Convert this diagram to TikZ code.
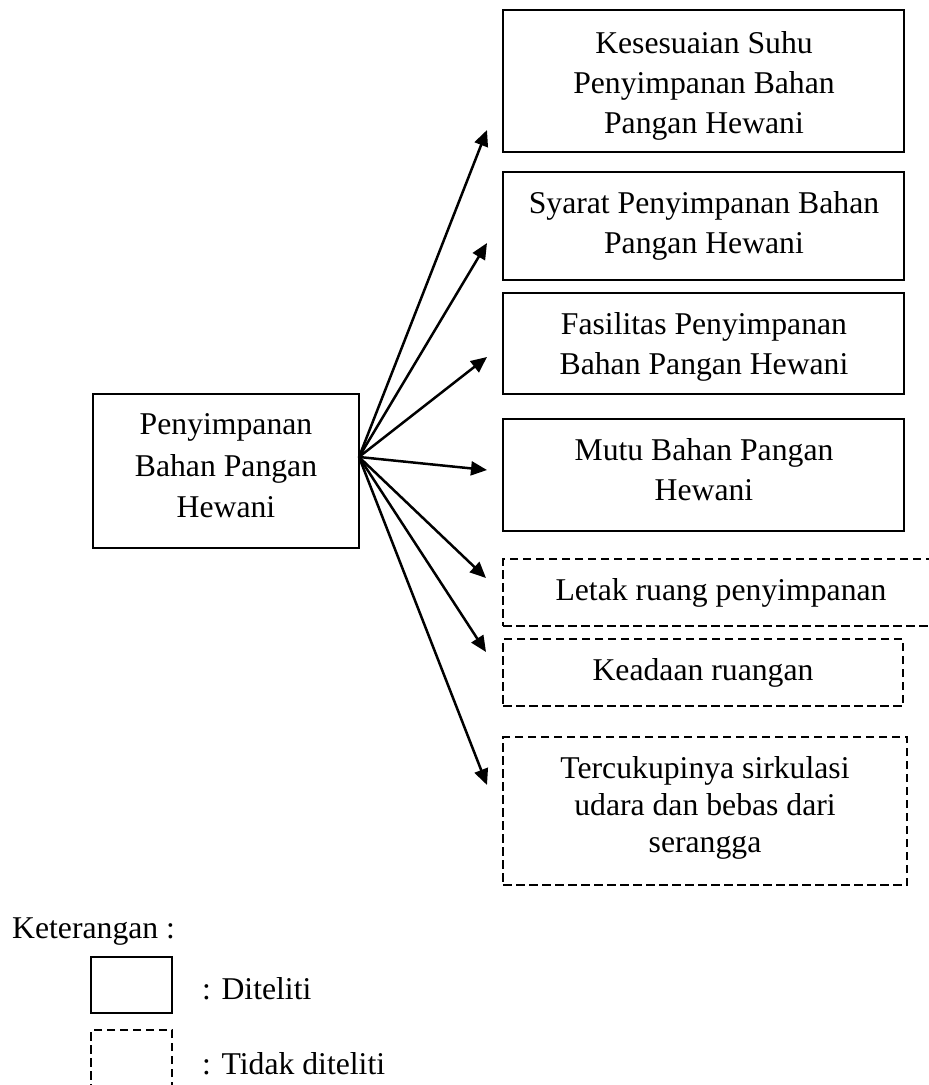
\documentclass[tikz,border=0pt]{standalone}
\usepackage{fontspec}
\setmainfont{Liberation Serif}
\usetikzlibrary{arrows.meta}
\begin{document}
\begin{tikzpicture}[x=1pt,y=-1pt,
  box/.style={draw, line width=2.2pt, rectangle, inner sep=0pt},
  dbox/.style={box, dash pattern=on 8.5pt off 4.5pt},
  lbl/.style={inner sep=0pt, align=center, font=\fontsize{31.7pt}{40pt}\selectfont},
  lbltight/.style={inner sep=0pt, align=center, font=\fontsize{31.7pt}{37pt}\selectfont},
  lblwide/.style={inner sep=0pt, align=center, font=\fontsize{31.7pt}{41.5pt}\selectfont},
  plain/.style={inner sep=0pt, font=\fontsize{31.7pt}{40pt}\selectfont},
  arr/.style={line width=2.5pt, -{Triangle[length=16pt,width=14pt]}}]
\useasboundingbox (0,0) rectangle (929,1085);

% boxes
\node[box, minimum width=266pt, minimum height=154pt] (c) at (226,471) {};
\node[box, minimum width=401pt, minimum height=142pt] (b1) at (703.5,81) {};
\node[box, minimum width=401pt, minimum height=108pt] (b2) at (703.5,226) {};
\node[box, minimum width=401pt, minimum height=101pt] (b3) at (703.5,343.5) {};
\node[box, minimum width=401pt, minimum height=112pt] (b4) at (703.5,475) {};
\node[dbox, minimum width=442pt, minimum height=67pt] (b5) at (724,592.5) {};
\node[dbox, minimum width=400pt, minimum height=67pt] (b6) at (703,672.5) {};
\node[dbox, minimum width=404pt, minimum height=148pt] (b7) at (705,811) {};

% texts
\node[lblwide] (tc) at (226,465.7) {Penyimpanan\\Bahan Pangan\\Hewani};
\node[lbl] (t1) at (704,86.1) {Kesesuaian Suhu\\Penyimpanan Bahan\\Pangan Hewani};
\node[lbl] (t2) at (704,225.6) {Syarat Penyimpanan Bahan\\Pangan Hewani};
\node[lbl] (t3) at (704,346.6) {Fasilitas Penyimpanan\\Bahan Pangan Hewani};
\node[lbl] (t4) at (704,469.2) {Mutu Bahan Pangan\\Hewani};
\node[lbl] (t5) at (721,592.6) {Letak ruang penyimpanan};
\node[lbl] (t6) at (703,672.6) {Keadaan ruangan};
\node[lbltight] (t7) at (705,807.6) {Tercukupinya sirkulasi\\udara dan bebas dari\\serangga};

% connectors
\coordinate (src) at (359,457);
\coordinate (e1) at (487,130);
\coordinate (e2) at (487,243);
\coordinate (e3) at (487,357);
\coordinate (e4) at (487,470);
\coordinate (e5) at (486,578);
\coordinate (e6) at (486,652);
\coordinate (e7) at (487,785);
\foreach \i in {1,...,7} {\draw[arr] (src) -- (e\i);}

% legend
\node[plain, anchor=base west] (ket) at (12,938) {Keterangan :};
\node[box, minimum width=81pt, minimum height=56pt] (l1) at (131.5,985) {};
\node[dbox, minimum width=81pt, minimum height=70pt] (l2) at (131.5,1065) {};
\node[plain, anchor=base west] (lt1) at (202,999) {: Diteliti};
\node[plain, anchor=base west] (lt2) at (202,1074) {: Tidak diteliti};
\end{tikzpicture}
\end{document}
